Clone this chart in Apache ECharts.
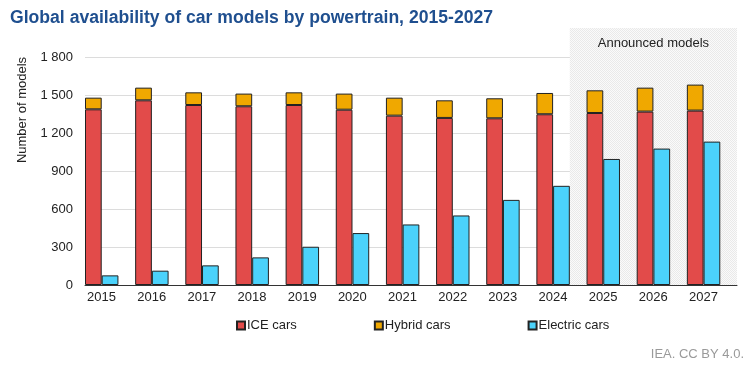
<!DOCTYPE html>
<html><head><meta charset="utf-8">
<script src="https://cdn.jsdelivr.net/npm/echarts@6/dist/echarts.min.js"></script>
<style>html,body{margin:0;padding:0;background:#fff}#c{width:750px;height:365px}</style>
</head><body><div id="c"></div>
<script>
var categories = ['2015','2016','2017','2018','2019','2020','2021','2022','2023','2024','2025','2026','2027'];
var iceCars = [1387,1458,1421,1411,1421,1384,1337,1319,1316,1348,1358,1369,1377];
var hybridCars = [92,100,100,100,100,127,142,139,158,168,179,189,205];
var electricCars = [76,113,155,218,302,410,478,549,672,783,995,1077,1132];
var yTicks = [0,300,600,900,1200,1500,1800];
var announcedFrom = '2024';

var pc = document.createElement('canvas'); pc.width = 2; pc.height = 2;
var pctx = pc.getContext('2d');
pctx.fillStyle = '#fafafa'; pctx.fillRect(0,0,2,2);
pctx.fillStyle = '#e9e9e9'; pctx.fillRect(0,0,1,1); pctx.fillRect(1,1,1,1);

var font = 'Liberation Sans, Arial, sans-serif';
var chart = echarts.init(document.getElementById('c'), null, {renderer:'canvas'});
var shadeStart = categories.indexOf(announcedFrom) + 2/3;
var border = {borderColor:'#222', borderWidth:1};
chart.setOption({
  backgroundColor:'#fff',
  animation:false,
  title:{text:'Global availability of car models by powertrain, 2015-2027', left:5, top:4,
    textStyle:{fontFamily:font, fontSize:17.6, fontWeight:'bold', color:'#1f4f8f'}},
  graphic:[
    {type:'text', x:22, y:110, rotation:Math.PI/2,
     style:{text:'Number of models', fontFamily:font, fontSize:13, fill:'#222', textAlign:'center', textVerticalAlign:'middle'}},
    {type:'text', right:6, top:348,
     style:{text:'IEA. CC BY 4.0.', fontFamily:font, fontSize:13, fill:'#9a9a9a'}}
  ],
  legend:{data:['ICE cars','Hybrid cars','Electric cars'], left:231, top:314, itemWidth:8, itemHeight:8, itemGap:77,
    icon:'rect', textStyle:{fontFamily:font, fontSize:13, color:'#222', padding:[0,0,0,-3]}},
  grid:[{left:85, right:13, top:57, bottom:80},{left:85, right:13, top:28, bottom:80}],
  xAxis:[
    {type:'category', data:categories, gridIndex:0,
     axisLine:{lineStyle:{color:'#333', width:1}}, axisTick:{show:false},
     axisLabel:{fontFamily:font, fontSize:13, color:'#222', margin:6, padding:[0,17,0,0]}},
    {type:'value', gridIndex:1, min:0, max:categories.length, show:false}
  ],
  yAxis:[
    {type:'value', gridIndex:0, min:yTicks[0], max:yTicks[yTicks.length-1], interval:300,
     axisLine:{show:false}, axisTick:{show:false},
     splitLine:{lineStyle:{color:'#dcdcdc', width:1}},
     axisLabel:{fontFamily:font, fontSize:13, color:'#222', margin:12,
       formatter:function(v){return String(v).replace(/\B(?=(\d{3})+(?!\d))/g,' ');}}},
    {type:'value', gridIndex:1, min:0, max:1, show:false}
  ],
  series:[
    {name:'ICE cars', type:'bar', stack:'a', data:iceCars, itemStyle:Object.assign({color:'#e24b4a'},border),
     barGap:0, barCategoryGap:0},
    {name:'Hybrid cars', type:'bar', stack:'a', data:hybridCars, itemStyle:Object.assign({color:'#f0a800'},border)},
    {name:'Electric cars', type:'bar', data:electricCars, itemStyle:Object.assign({color:'#4bd2fb'},border)},
    {name:'spacer', type:'bar', data:categories.map(function(){return '-';})},
    {name:'shade', type:'line', xAxisIndex:1, yAxisIndex:1, z:-1, data:[[0,0]], symbol:'none', lineStyle:{opacity:0}, silent:true,
     markArea:{silent:true, itemStyle:{color:{image:pc, repeat:'repeat'}},
       label:{show:true, position:'insideTop', distance:9, formatter:'Announced models', fontFamily:font, fontSize:13, color:'#222'},
       data:[[{coord:[shadeStart,0]},{coord:[categories.length,1]}]]}}
  ]
});
</script></body></html>
